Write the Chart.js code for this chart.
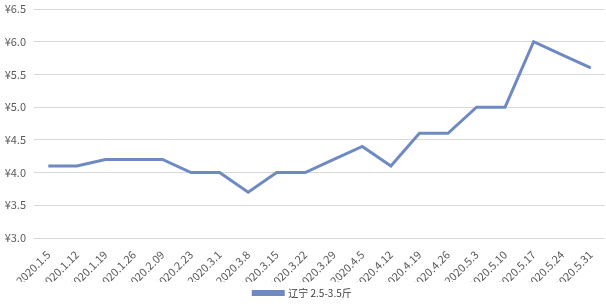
<!DOCTYPE html>
<html>
<head>
<meta charset="utf-8">
<script src="https://cdn.jsdelivr.net/npm/chart.js@4"></script>
<style>
    html, body { margin: 0; padding: 0; background: #fff; }
    #wrap { width: 606px; height: 308px; position: relative; }
</style>
</head>
<body>
<div id="wrap"><canvas id="lineChart"></canvas></div>
<script>
const dates = [
    "2020.1.5", "2020.1.12", "2020.1.19", "2020.1.26", "2020.2.09",
    "2020.2.23", "2020.3.1", "2020.3.8", "2020.3.15", "2020.3.22",
    "2020.3.29", "2020.4.5", "2020.4.12", "2020.4.19", "2020.4.26",
    "2020.5.3", "2020.5.10", "2020.5.17", "2020.5.24", "2020.5.31"
];
const prices = [4.1, 4.1, 4.2, 4.2, 4.2, 4.0, 4.0, 3.7, 4.0, 4.0,
                4.2, 4.4, 4.1, 4.6, 4.6, 5.0, 5.0, 6.0, 5.8, 5.6];
const seriesName = '辽宁 2.5-3.5斤';

const fontFamily = '"Noto Sans CJK SC", "Noto Sans", sans-serif';
const lineColor = '#6f8ac2';

const ctx = document.getElementById('lineChart').getContext('2d');
new Chart(ctx, {
    type: 'line',
    data: {
        labels: dates,
        datasets: [{
            label: seriesName,
            data: prices,
            borderColor: lineColor,
            backgroundColor: lineColor,
            borderWidth: 3,
            pointRadius: 0,
            tension: 0
        }]
    },
    options: {
        responsive: true,
        maintainAspectRatio: false,
        animation: false,
        layout: { padding: { left: 0, right: 1, top: 9, bottom: 0 } },
        plugins: {
            legend: {
                display: true,
                position: 'bottom',
                labels: {
                    boxWidth: 30,
                    boxHeight: 3,
                    padding: 6,
                    color: '#404040',
                    font: { family: fontFamily, size: 10 }
                }
            },
            tooltip: { enabled: false }
        },
        scales: {
            x: {
                offset: true,
                grid: { display: false },
                border: { display: false },
                afterFit: scale => { scale.height = 44; },
                ticks: {
                    minRotation: 45,
                    maxRotation: 45,
                    autoSkip: false,
                    padding: 2,
                    color: '#595959',
                    font: { family: fontFamily, size: 11 }
                }
            },
            y: {
                min: 3,
                max: 6.5,
                border: { display: false },
                grid: { color: '#d9d9d9', drawTicks: false },
                afterFit: scale => {
                    scale.width = 34;
                    scale.paddingTop = 0;
                    scale.paddingBottom = 0;
                },
                ticks: {
                    stepSize: 0.5,
                    padding: 8,
                    color: '#595959',
                    font: { family: fontFamily, size: 11 },
                    callback: v => '¥' + v.toFixed(1)
                }
            }
        }
    }
});
</script>
</body>
</html>
